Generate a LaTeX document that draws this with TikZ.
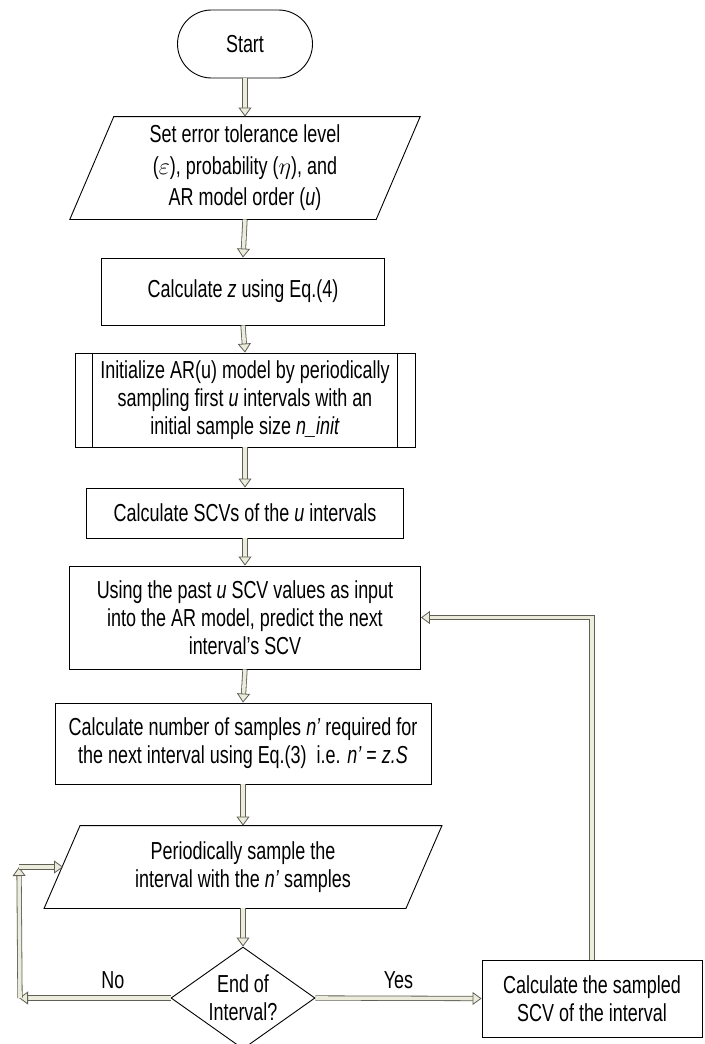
\documentclass[tikz,border=0pt]{standalone}
\usepackage{fontspec}
\setmainfont[FakeStretch=0.73]{Liberation Sans}
\usetikzlibrary{shapes.geometric,arrows.meta}

\definecolor{arrowfill}{RGB}{236,236,220}
\definecolor{arrowline}{RGB}{95,95,85}

\tikzset{
  box/.style={draw, line width=0.45pt, align=center, inner sep=0pt,
    font=\fontsize{12.3}{14}\selectfont},
  iobox/.style={box, draw=none},
  flow/.style={draw=arrowline, line width=0.4pt, double=arrowfill,
    double distance=1.8pt,
    -{Triangle[width=6.5pt,length=4.5pt,fill=arrowfill,line width=0.4pt]}},
  lbl/.style={font=\fontsize{12.3}{14}\selectfont},
}

\begin{document}
\begin{tikzpicture}[x=0.5pt,y=-0.5pt]
\useasboundingbox (0,0) rectangle (705,1044);

% main column
\node[box, rounded corners=17pt, minimum width=67.5pt, minimum height=34pt] (start) at (245,44) {Start};
\node[iobox, font=\fontsize{12.3}{15.8}\selectfont, minimum width=152.75pt, minimum height=51pt] (setpar) at (245,168)
  {Set error tolerance level\\($\varepsilon$), probability ($\eta$), and\\AR model order (\textit{u})};
\draw[line width=0.45pt] ([xshift=11pt]setpar.north west) -- ([xshift=11pt]setpar.north east)
  -- ([xshift=-11pt]setpar.south east) -- ([xshift=-11pt]setpar.south west) -- cycle;
\node[box, minimum width=141.5pt, minimum height=33.5pt] (zcalc) at (243,291.5)
  {Calculate \textit{z} using Eq.(4)};
\node[box, minimum width=170pt, minimum height=47pt] (init) at (245,400)
  {Initialize AR(u) model by periodically\\sampling first \textit{u} intervals with an\\initial sample size \textit{n\_init}};
\draw[line width=0.45pt] ([xshift=9pt]init.north west) -- ([xshift=9pt]init.south west);
\draw[line width=0.45pt] ([xshift=-9pt]init.north east) -- ([xshift=-9pt]init.south east);
\node[box, minimum width=158.5pt, minimum height=25pt] (scvs) at (245,513)
  {Calculate SCVs of the \textit{u} intervals};
\node[box, minimum width=175.5pt, minimum height=51.5pt] (predict) at (245,617.5)
  {Using the past \textit{u} SCV values as input\\into the AR model, predict the next\\interval’s SCV};
\node[box, minimum width=188pt, minimum height=40.5pt] (nsamp) at (243,743.5)
  {Calculate number of samples \textit{n’} required for\\the next interval using Eq.(3)~~i.e. \textit{n’} = \textit{z.S}};
\node[iobox, minimum width=180.5pt, minimum height=41pt] (sample) at (243,867)
  {Periodically sample the\\interval with the \textit{n’} samples};
\draw[line width=0.45pt] ([xshift=9pt]sample.north west) -- ([xshift=9pt]sample.north east)
  -- ([xshift=-9pt]sample.south east) -- ([xshift=-9pt]sample.south west) -- cycle;
\node[box, diamond, aspect=1.41, minimum width=72pt, minimum height=51pt] (endint) at (243,998)
  {End of\\Interval?};
\node[box, minimum width=110pt, minimum height=38.5pt] (sampscv) at (592,998.5)
  {Calculate the sampled\\SCV of the interval};

% arrows down the column
\draw[flow] (start.south) -- (setpar.north);
\draw[flow] (setpar.south) -- (zcalc.north);
\draw[flow] (zcalc.south) -- (init.north);
\draw[flow] (init.south) -- (scvs.north);
\draw[flow] (scvs.south) -- (predict.north);
\draw[flow] (predict.south) -- (nsamp.north);
\draw[flow] (nsamp.south) -- (sample.north);
\draw[flow] (sample.south) -- (endint.north);

% yes branch and feedback
\draw[flow] (endint.east) -- node[lbl, above=1pt] {Yes} (sampscv.west);
\draw[flow] (sampscv.north) |- (predict.east);

% no branch
\coordinate (nocorner) at (19,998);
\coordinate (noup) at (19,867);
\draw[flow] (endint.west) -- node[lbl, above=1pt, pos=0.38] {No} (nocorner);
\draw[flow] ([xshift=0.5pt]nocorner) -- (noup);
\draw[flow] (noup) -- ([xshift=0.5pt]noup -| sample.west);
\end{tikzpicture}
\end{document}
